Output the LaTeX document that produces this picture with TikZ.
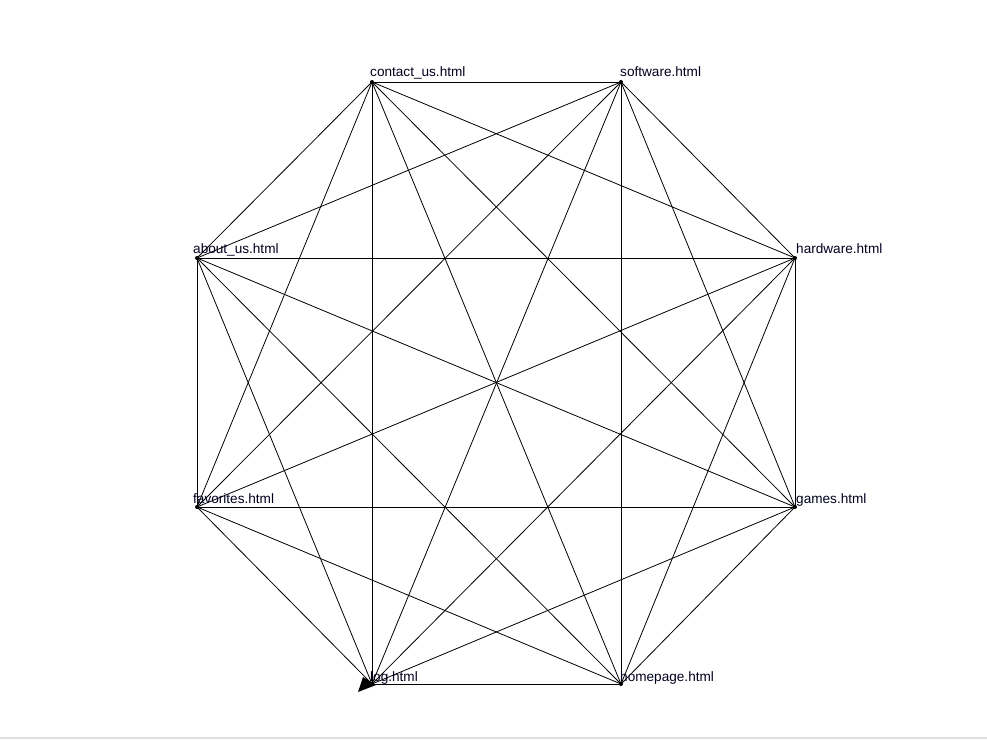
\documentclass[tikz,border=0pt]{standalone}
\usepackage{fontspec}
\setmainfont{Liberation Sans}
\begin{document}
\begin{tikzpicture}[x=1pt,y=-1pt,
  vertex/.style={circle,fill=black,inner sep=0pt,minimum size=4pt},
  edge/.style={draw=black,line width=0.8pt},
  lbl/.style={anchor=base west,inner sep=0pt,font=\fontsize{13.6}{15}\selectfont,text=black!88!blue}]
\useasboundingbox (0,0) rectangle (987,739);
\fill[white] (0,0) rectangle (987,739);
\draw[black!12,line width=1.5pt] (0,738) -- (987,738);
% vertices on an octagon
\node[vertex] (contact) at (372,82) {};
\node[vertex] (software) at (621,82) {};
\node[vertex] (hardware) at (795,258) {};
\node[vertex] (games) at (795,507) {};
\node[vertex] (homepage) at (621,684) {};
\node[vertex] (log) at (372,684) {};
\node[vertex] (favorites) at (197,507) {};
\node[vertex] (about) at (197,258) {};
% every pair of pages is linked
\foreach \a/\b in {contact/software,contact/hardware,contact/games,contact/homepage,contact/log,contact/favorites,contact/about,
  software/hardware,software/games,software/homepage,software/log,software/favorites,software/about,
  hardware/games,hardware/homepage,hardware/log,hardware/favorites,hardware/about,
  games/homepage,games/log,games/favorites,games/about,
  homepage/log,homepage/favorites,homepage/about,
  log/favorites,log/about,
  favorites/about}
  \draw[edge] (\a.center) -- (\b.center);
% arrow tip at log.html
\fill[black] (376,685) -- (358,692) -- (363,677) -- cycle;
% page labels
\node[lbl] (tcontact) at (370,76) {contact\_us.html};
\node[lbl] (tsoftware) at (620,76) {software.html};
\node[lbl] (tabout) at (193,253) {about\_us.html};
\node[lbl] (thardware) at (796,253) {hardware.html};
\node[lbl] (tfavorites) at (193,503) {favorites.html};
\node[lbl] (tgames) at (796,503) {games.html};
\node[lbl] (tlog) at (370,681) {log.html};
\node[lbl] (thomepage) at (620,681) {homepage.html};
\end{tikzpicture}
\end{document}
